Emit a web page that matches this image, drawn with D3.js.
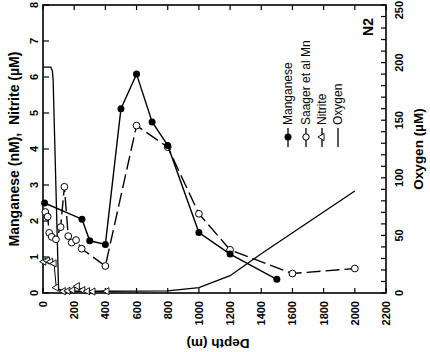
<!DOCTYPE html>
<html>
<head>
<meta charset="utf-8">
<script src="https://cdn.jsdelivr.net/npm/d3@7"></script>
<style>
  html, body { margin: 0; padding: 0; background: #fff; }
  svg { display: block; }
  text { font-family: "Liberation Sans", Arial, sans-serif; fill: #000; }
</style>
</head>
<body>
<div id="chart"></div>
<script>
// Station N2: manganese, nitrite and oxygen against depth

// Manganese (nM), this study
const mnDepth = [10, 250, 300, 400, 500, 600, 700, 800, 1000, 1200, 1500];
const mnValue = [2.5, 2.05, 1.45, 1.35, 5.12, 6.08, 4.75, 4.1, 1.68, 1.08, 0.38];

// Saager et al. Mn (nM)
const saagerDepth = [15, 30, 40, 56, 83, 113, 137, 162, 184, 212, 248, 400, 600, 800, 1000, 1200, 1600, 2000];
const saagerValue = [2.25, 2.12, 1.67, 1.56, 1.49, 1.83, 2.95, 1.58, 1.4, 1.47, 1.23, 0.75, 4.65, 4.05, 2.2, 1.2, 0.54, 0.68];

// Nitrite (µM)
const no2Depth = [5, 28, 49, 71, 85, 130, 160, 190, 220, 255, 285, 320, 410];
const no2Value = [0.87, 0.9, 0.87, 0.82, 0.15, 0.05, 0.06, 0.08, 0.19, 0.08, 0.05, 0.04, 0.05];

// Oxygen (µM), continuous profile
const o2Depth = [0, 50, 60, 65, 100, 200, 400, 800, 1000, 1200, 1400, 2000];
const o2Value = [196, 196, 193, 185, 3, 1.5, 1.5, 1.8, 4.6, 15, 34, 88.5];

// Axis ticks
const depthTicks = d3.range(0, 2201, 200);
const leftTicks = d3.range(0, 9, 1);
const rightTicks = d3.range(0, 251, 50);
const rightMinor = d3.range(0, 251, 10);

// Legend entries
const legendLabels = ["Manganese", "Saager et al Mn", "Nitrite", "Oxygen"];

const W = 430, H = 352;
const plot = { left: 43, right: 386, top: 5, bottom: 293 };

const svg = d3.select("#chart").append("svg").attr("width", W).attr("height", H);

const x = d3.scaleLinear().domain([0, 2200]).range([plot.left, plot.right]);
const y = d3.scaleLinear().domain([0, 8]).range([plot.bottom, plot.top]);
const yO = d3.scaleLinear().domain([0, 250]).range([plot.bottom, plot.top]);

// Frame
svg.append("rect")
  .attr("x", plot.left).attr("y", plot.top)
  .attr("width", plot.right - plot.left).attr("height", plot.bottom - plot.top)
  .attr("fill", "none").attr("stroke", "#000").attr("stroke-width", 1.6);

// Inward ticks on all four sides
const tickLen = 5;
const tg = svg.append("g").attr("stroke", "#000").attr("stroke-width", 1.2);
depthTicks.forEach(d => {
  tg.append("line").attr("x1", x(d)).attr("x2", x(d)).attr("y1", plot.bottom).attr("y2", plot.bottom - tickLen);
  tg.append("line").attr("x1", x(d)).attr("x2", x(d)).attr("y1", plot.top).attr("y2", plot.top + tickLen);
});
leftTicks.forEach(v => {
  tg.append("line").attr("x1", plot.left).attr("x2", plot.left + tickLen + 1).attr("y1", y(v)).attr("y2", y(v));
});
rightMinor.forEach(v => {
  tg.append("line").attr("x1", plot.right).attr("x2", plot.right - tickLen).attr("y1", yO(v)).attr("y2", yO(v));
});

// Tick labels, rotated to read upward
const labelFont = "bold 11px 'Liberation Sans', Arial, sans-serif";
depthTicks.forEach(d => {
  svg.append("text")
    .attr("transform", `translate(${x(d) + 4},${plot.bottom + 8}) rotate(-90)`)
    .attr("text-anchor", "end")
    .style("font", labelFont)
    .text(d);
});
leftTicks.forEach(v => {
  svg.append("text")
    .attr("transform", `translate(38,${y(v)}) rotate(-90)`)
    .attr("text-anchor", "middle")
    .style("font", labelFont)
    .text(v);
});
rightTicks.forEach(v => {
  // the top label is kept inside the page edge
  const ty = yO(v);
  const topLimited = ty - 9 < 1;
  svg.append("text")
    .attr("transform", `translate(403,${topLimited ? 1 : ty}) rotate(-90)`)
    .attr("text-anchor", topLimited ? "end" : "middle")
    .style("font", labelFont)
    .text(v);
});

// Axis titles
svg.append("text")
  .attr("transform", `translate(19,${(plot.top + plot.bottom) / 2}) rotate(-90)`)
  .attr("text-anchor", "middle")
  .style("font", "bold 14px 'Liberation Sans', Arial, sans-serif")
  .attr("xml:space", "preserve")
  .text("Manganese (nM),  Nitrite (\u00B5M)");

svg.append("text")
  .attr("transform", `translate(423,${(plot.top + plot.bottom) / 2}) rotate(-90)`)
  .attr("text-anchor", "middle")
  .style("font", "bold 13.5px 'Liberation Sans', Arial, sans-serif")
  .text("Oxygen (\u00B5M)");

svg.append("text")
  .attr("transform", `translate(218,339) rotate(180)`)
  .attr("text-anchor", "middle")
  .style("font", "bold 13.5px 'Liberation Sans', Arial, sans-serif")
  .text("Depth (m)");

// Station label
svg.append("text")
  .attr("transform", `translate(373,27) rotate(-90)`)
  .attr("text-anchor", "middle")
  .style("font", "bold 14px 'Liberation Sans', Arial, sans-serif")
  .text("N2");

// Data series
const zip = (a, b) => a.map((d, i) => [d, b[i]]);
const lineL = d3.line().x(d => x(d[0])).y(d => y(d[1]));
const lineO = d3.line().x(d => x(d[0])).y(d => yO(d[1]));

const mnData = zip(mnDepth, mnValue);
const saagerData = zip(saagerDepth, saagerValue);
const no2Data = zip(no2Depth, no2Value);
const o2Data = zip(o2Depth, o2Value);

// Oxygen line
svg.append("path").datum(o2Data).attr("d", lineO)
  .attr("fill", "none").attr("stroke", "#000").attr("stroke-width", 1.3);

// Nitrite line and triangles
svg.append("path").datum(no2Data).attr("d", lineL)
  .attr("fill", "none").attr("stroke", "#000").attr("stroke-width", 1);
const tri = d3.symbol().type(d3.symbolTriangle).size(22);
svg.selectAll(".no2").data(no2Data).enter().append("path")
  .attr("transform", d => `translate(${x(d[0])},${y(d[1])}) rotate(-90)`)
  .attr("d", tri)
  .attr("fill", "#fff").attr("stroke", "#000").attr("stroke-width", 0.9);

// Saager et al. dashed line and open circles
svg.append("path").datum(saagerData).attr("d", lineL)
  .attr("fill", "none").attr("stroke", "#000").attr("stroke-width", 1.4)
  .attr("stroke-dasharray", "14,5");
svg.selectAll(".sg").data(saagerData).enter().append("circle")
  .attr("cx", d => x(d[0])).attr("cy", d => y(d[1])).attr("r", 3.4)
  .attr("fill", "#fff").attr("stroke", "#000").attr("stroke-width", 1);

// Manganese solid line and filled circles
svg.append("path").datum(mnData).attr("d", lineL)
  .attr("fill", "none").attr("stroke", "#000").attr("stroke-width", 1.4);
svg.selectAll(".mn").data(mnData).enter().append("circle")
  .attr("cx", d => x(d[0])).attr("cy", d => y(d[1])).attr("r", 3.5)
  .attr("fill", "#000");

// Legend, written upward
const legendX = [288, 306, 322, 338];
const lg = svg.append("g");
legendLabels.forEach((lab, i) => {
  const lx = legendX[i];
  lg.append("line").attr("x1", lx).attr("x2", lx).attr("y1", 128).attr("y2", 147)
    .attr("stroke", "#000").attr("stroke-width", 1.3);
  if (i === 0) {
    lg.append("circle").attr("cx", lx).attr("cy", 137).attr("r", 3.5).attr("fill", "#000");
  } else if (i === 1) {
    lg.append("circle").attr("cx", lx).attr("cy", 137).attr("r", 3.2)
      .attr("fill", "#fff").attr("stroke", "#000").attr("stroke-width", 1);
  } else if (i === 2) {
    lg.append("path").attr("transform", `translate(${lx},137) rotate(-90)`).attr("d", tri)
      .attr("fill", "#fff").attr("stroke", "#000").attr("stroke-width", 0.9);
  }
  lg.append("text")
    .attr("transform", `translate(${lx + 4},125) rotate(-90)`)
    .attr("text-anchor", "start")
    .style("font", "12px 'Liberation Sans', Arial, sans-serif")
    .text(lab);
});
</script>
</body>
</html>
